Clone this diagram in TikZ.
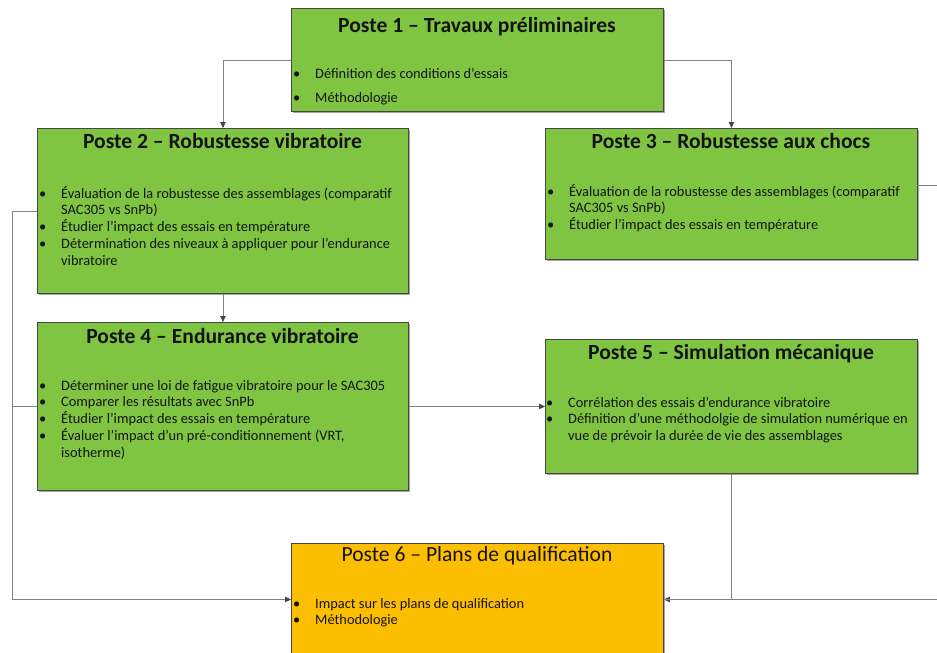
\documentclass[tikz,border=0pt]{standalone}
\usepackage{fontspec}
\setmainfont{Carlito}
\usetikzlibrary{arrows.meta,shadows}
\definecolor{boxgreen}{RGB}{127,197,66}
\definecolor{boxgold}{RGB}{252,190,0}
\definecolor{edgegray}{RGB}{70,70,70}
\definecolor{linegray}{RGB}{130,130,130}
\definecolor{tipgray}{RGB}{70,70,70}
\definecolor{txt}{RGB}{20,20,20}
\newcommand{\bl}{\makebox[22pt][l]{\textbullet}}
\tikzset{
  box/.style={draw=edgegray, line width=0.9pt, anchor=north west, inner sep=0pt,
    drop shadow={shadow xshift=2pt, shadow yshift=-2pt, opacity=0.35, fill=black}},
  gbox/.style={box, fill=boxgreen},
  obox/.style={box, fill=boxgold},
  title/.style={anchor=base, inner sep=0pt, text=txt, font=\fontsize{21.6}{26}\selectfont\bfseries},
  titlereg/.style={anchor=base, inner sep=0pt, text=txt, font=\fontsize{21.6}{26}\selectfont},
  body/.style={anchor=base west, inner sep=0pt, text=txt, font=\fontsize{14.4}{16.7}\selectfont},
  conn/.style={draw=linegray, line width=0.9pt, -{Triangle[length=6pt,width=5.5pt,color=tipgray]}},
  plain/.style={draw=linegray, line width=0.9pt}
}
\begin{document}
\begin{tikzpicture}[x=1pt,y=-1pt]
\useasboundingbox (0,0) rectangle (937,653);
\clip (0,0) rectangle (937,653);
\fill[white] (0,0) rectangle (937,653);
% boxes
\node[gbox, minimum width=372pt, minimum height=103pt] (p1) at (291,8) {};
\node[gbox, minimum width=371pt, minimum height=165pt] (p2) at (37,128) {};
\node[gbox, minimum width=372pt, minimum height=131pt] (p3) at (545,128) {};
\node[gbox, minimum width=371pt, minimum height=168pt] (p4) at (37,322) {};
\node[gbox, minimum width=372pt, minimum height=134pt] (p5) at (545,339) {};
\node[obox, minimum width=372pt, minimum height=112pt] (p6) at (291,543) {};
% titles
\node[title] (p1h) at (477,32.5) {Poste 1 – Travaux préliminaires};
\node[title] (p2h) at (222.5,148) {Poste 2 – Robustesse vibratoire};
\node[title] (p3h) at (731,148) {Poste 3 – Robustesse aux chocs};
\node[title] (p4h) at (222.5,343.5) {Poste 4 – Endurance vibratoire};
\node[title] (p5h) at (731,359.5) {Poste 5 – Simulation mécanique};
\node[titlereg] (p6h) at (477,561.5) {Poste 6 – Plans de qualification};
% bodies
\node[body] (p1b) at (293,78) {\begin{tabular}[t]{@{}l@{}l@{}}
\bl & Définition des conditions d’essais\\[7.3pt]
\bl & Méthodologie
\end{tabular}};
\node[body] (p2b) at (39,198) {\begin{tabular}[t]{@{}l@{}l@{}}
\bl & Évaluation de la robustesse des assemblages (comparatif\\
 & SAC305 vs SnPb)\\
\bl & Étudier l’impact des essais en température\\
\bl & Détermination des niveaux à appliquer pour l’endurance\\
 & vibratoire
\end{tabular}};
\node[body] (p3b) at (547,196) {\begin{tabular}[t]{@{}l@{}l@{}}
\bl & Évaluation de la robustesse des assemblages (comparatif\\
 & SAC305 vs SnPb)\\
\bl & Étudier l’impact des essais en température
\end{tabular}};
\node[body] (p4b) at (39,390) {\begin{tabular}[t]{@{}l@{}l@{}}
\bl & Déterminer une loi de fatigue vibratoire pour le SAC305\\
\bl & Comparer les résultats avec SnPb\\
\bl & Étudier l’impact des essais en température\\
\bl & Évaluer l’impact d’un pré-conditionnement (VRT,\\
 & isotherme)
\end{tabular}};
\node[body] (p5b) at (546,407) {\begin{tabular}[t]{@{}l@{}l@{}}
\bl & Corrélation des essais d’endurance vibratoire\\
\bl & Définition d’une méthodolgie de simulation numérique en\\
 & vue de prévoir la durée de vie des assemblages
\end{tabular}};
\node[body] (p6b) at (293,608) {\begin{tabular}[t]{@{}l@{}l@{}}
\bl & Impact sur les plans de qualification\\
\bl & Méthodologie
\end{tabular}};
% helper coordinates
\coordinate (lx) at (12,0);
\coordinate (rx) at (960,0);
\coordinate (p3r) at (917,185);
% connectors
\draw[conn] (p1.west) -| (p2.north);
\draw[conn] (p1.east) -| (p3.north);
\draw[conn] (p2.south) -- (p4.north);
\draw[conn] (p4.east) -- (p5.west);
\draw[conn] (p2.west) -- (lx |- p2.west) |- (p6.west);
\draw[plain] (p4.west) -- (lx |- p4.west);
\draw[conn] (p5.south) |- (p6.east);
\draw[plain] (p3r) -- (rx |- p3r) -- (rx |- p6.east) -- (p6.east);
\end{tikzpicture}
\end{document}
